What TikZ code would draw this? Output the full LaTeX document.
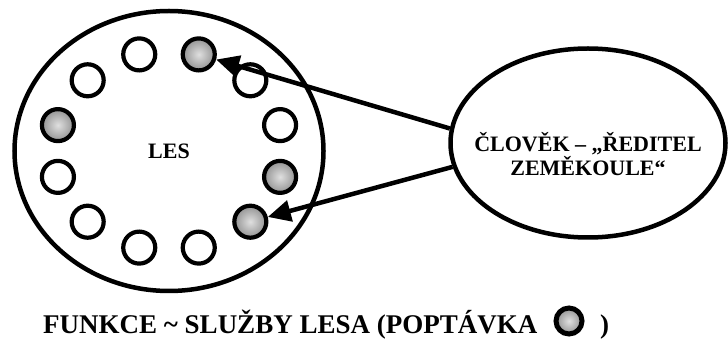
\documentclass[tikz,border=0pt]{standalone}
\usepackage{fontspec}
\setmainfont{Liberation Serif}
\usepackage{tikz}
\usetikzlibrary{shapes.geometric,arrows.meta,positioning,calc,shadings}

\begin{document}
\begin{tikzpicture}[x=1pt, y=1pt,
    bigell/.style={ellipse, draw=black, line width=4.5pt, inner sep=0pt,
        font=\fontsize{22}{24}\selectfont\bfseries},
    func/.style={circle, draw=black, line width=4.2pt, fill=white,
        minimum size=32pt, inner sep=0pt},
    demand/.style={func, inner color=gray!25, outer color=gray!85},
    arr/.style={-{Triangle[length=23pt, width=21pt]}, line width=4.5pt, black}
]
    \useasboundingbox (0,0) rectangle (728,340);

    % Forest with its functions
    \node[bigell, minimum width=309pt, minimum height=280pt] (les) at (169,189) {LES};
    \foreach \a/\s in {15/func, 45/func, 75/demand, 105/func, 135/func, 165/demand,
                       195/func, 225/func, 255/func, 285/func, 315/demand, 345/demand}
        \node[\s] (c\a) at ([shift={(\a:115 and 100)}]les.center) {};

    % Man
    \node[bigell, minimum width=275pt, minimum height=189pt] (man) at (588,197) {};
    \node[font=\fontsize{22}{24}\selectfont\bfseries, align=center]
        (mantxt) at ([yshift=-11pt]man.center) {ČLOVĚK – „ŘEDITEL\\ZEMĚKOULE“};

    \draw[arr] (man.174) -- (c75);
    \draw[arr] (man.190) -- (c315);

    % Legend
    \node[anchor=base west, font=\fontsize{27}{29}\selectfont\bfseries, inner sep=0pt]
        (leg) at (43,6) {FUNKCE \textasciitilde{} SLUŽBY LESA (POPTÁVKA};
    \node[demand, minimum size=26pt, line width=5pt] (legdot) at (569,19) {};
    \node[anchor=base west, font=\fontsize{27}{29}\selectfont\bfseries, inner sep=0pt]
        (legend) at (600,6) {)};
\end{tikzpicture}
\end{document}
